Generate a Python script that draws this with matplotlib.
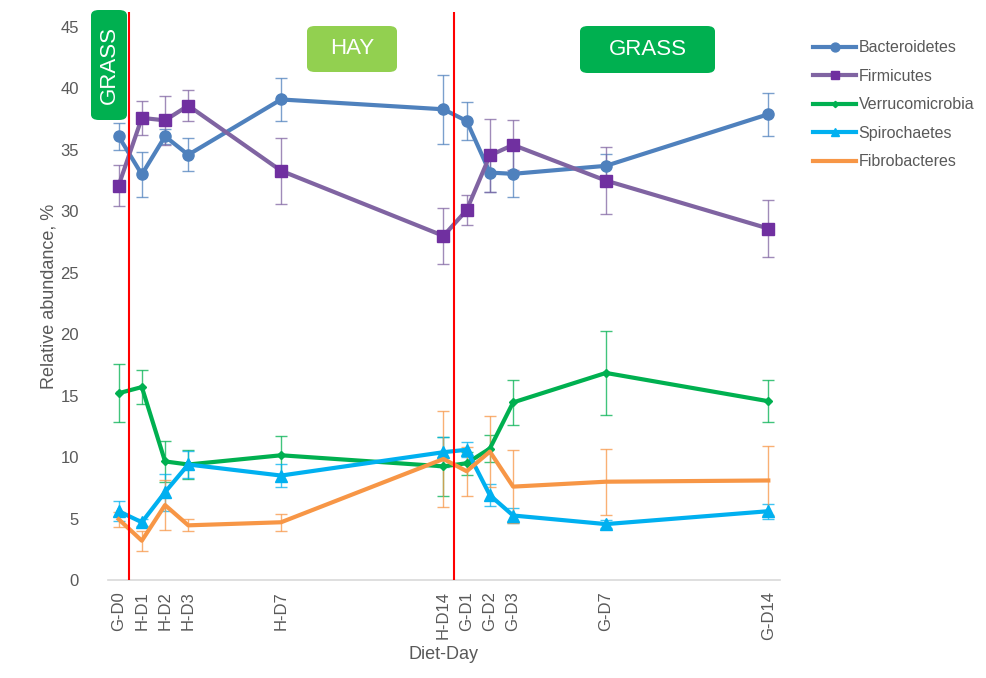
import matplotlib
matplotlib.use("Agg")
import matplotlib.pyplot as plt
from matplotlib.patches import FancyBboxPatch

plt.rcParams['font.family'] = ['Liberation Sans', 'DejaVu Sans']

# day index of each sample on the x axis
days = [0, 1, 2, 3, 7, 14, 15, 16, 17, 21, 28]
tick_labels = ['G-D0', 'H-D1', 'H-D2', 'H-D3', 'H-D7', 'H-D14',
               'G-D1', 'G-D2', 'G-D3', 'G-D7', 'G-D14']

bacteroidetes = [36.1, 33.0, 36.1, 34.6, 39.1, 38.3, 37.35, 33.15, 33.05, 33.7, 37.9]
bacteroidetes_err = [1.1, 1.8, 0.6, 1.35, 1.75, 2.8, 1.55, 1.6, 1.9, 1.0, 1.75]
firmicutes = [32.1, 37.6, 37.4, 38.6, 33.3, 28.0, 30.1, 34.55, 35.4, 32.5, 28.6]
firmicutes_err = [1.65, 1.4, 2.0, 1.25, 2.7, 2.3, 1.25, 3.0, 2.05, 2.7, 2.3]
verruco = [15.2, 15.7, 9.65, 9.4, 10.15, 9.25, 9.5, 10.7, 14.45, 16.85, 14.55]
verruco_err = [2.35, 1.4, 1.7, 1.15, 1.6, 2.4, 0.95, 1.1, 1.8, 3.4, 1.7]
spiro = [5.6, 4.7, 7.15, 9.4, 8.5, 10.4, 10.6, 6.9, 5.25, 4.55, 5.6]
spiro_err = [0.8, 0.3, 1.5, 1.1, 0.9, 1.2, 0.6, 0.9, 0.65, 0.35, 0.6]
fibro = [4.95, 3.2, 6.1, 4.45, 4.7, 9.85, 8.85, 10.45, 7.6, 8.0, 8.1]
fibro_err = [0.6, 0.8, 2.05, 0.5, 0.7, 3.9, 2.0, 2.9, 3.0, 2.7, 2.8]

diet_switch = [0.45, 14.45]

series = [
    ('Bacteroidetes', bacteroidetes, bacteroidetes_err, '#4F81BD', '#4F81BD', 'o', 8),
    ('Firmicutes', firmicutes, firmicutes_err, '#8064A2', '#7030A0', 's', 8),
    ('Verrucomicrobia', verruco, verruco_err, '#00B050', '#00B050', 'D', 4),
    ('Spirochaetes', spiro, spiro_err, '#00B0F0', '#00B0F0', '^', 8),
    ('Fibrobacteres', fibro, fibro_err, '#F79646', '#F79646', None, 0),
]

fig = plt.figure(figsize=(9.86, 6.78), dpi=100)
ax = fig.add_axes([0.1095, 0.1445, 0.6815, 0.8375])

for name, vals, err, lc, mc, mk, ms in series:
    ax.errorbar(days, vals, yerr=err, fmt='none', ecolor=lc, elinewidth=1,
                capsize=4, capthick=1, alpha=0.75, zorder=2)
    ax.plot(days, vals, color=lc, lw=3, marker=mk, markersize=ms,
            markerfacecolor=mc, markeredgecolor=mc, label=name, zorder=3)

for d in diet_switch:
    ax.axvline(d, color='#FF0000', lw=1.5, zorder=4)

ax.set_xlim(-0.46, 28.5)
ax.set_ylim(0, 46.2)
ax.set_yticks(range(0, 50, 5))
ax.set_xticks(days)
ax.set_xticklabels(tick_labels, rotation=90)
ax.tick_params(axis='both', length=0, labelsize=12, colors='#595959')
ax.tick_params(axis='x', pad=8)
ax.tick_params(axis='y', pad=21)
for s in ['top', 'right', 'left']:
    ax.spines[s].set_visible(False)
ax.spines['bottom'].set_color('#D9D9D9')
ax.spines['bottom'].set_linewidth(1.2)
ax.set_xlabel('Diet-Day', fontsize=13, color='#595959')
ax.set_ylabel('Relative abundance, %', fontsize=13, color='#595959', labelpad=2)

# diet boxes
W, H = 986.0, 678.0
boxes = [
    (91, 10, 36, 110, '#00B050', 'GRASS', 90),
    (307, 26, 90, 46, '#92D050', 'HAY', 0),
    (580, 26, 135, 47, '#00B050', 'GRASS', 0),
]
for x0, y0, w, h, c, txt, rot in boxes:
    p = FancyBboxPatch((x0 / W, 1 - (y0 + h) / H), w / W, h / H,
                       boxstyle='round,pad=0,rounding_size=0.008',
                       transform=fig.transFigure, facecolor=c, edgecolor='none',
                       zorder=5)
    fig.patches.append(p)
    fig.text((x0 + w / 2) / W, 1 - (y0 + h / 2) / H, txt, color='white',
             fontsize=16, ha='center', va='center', rotation=rot, zorder=6)

fig.legend(loc='upper left', bbox_to_anchor=(0.81, 0.962), frameon=False,
           fontsize=11.5, labelcolor='#595959', handlelength=2.7,
           handletextpad=0.15, labelspacing=0.85, markerscale=0.8)

fig.savefig('out.png', dpi=100)
